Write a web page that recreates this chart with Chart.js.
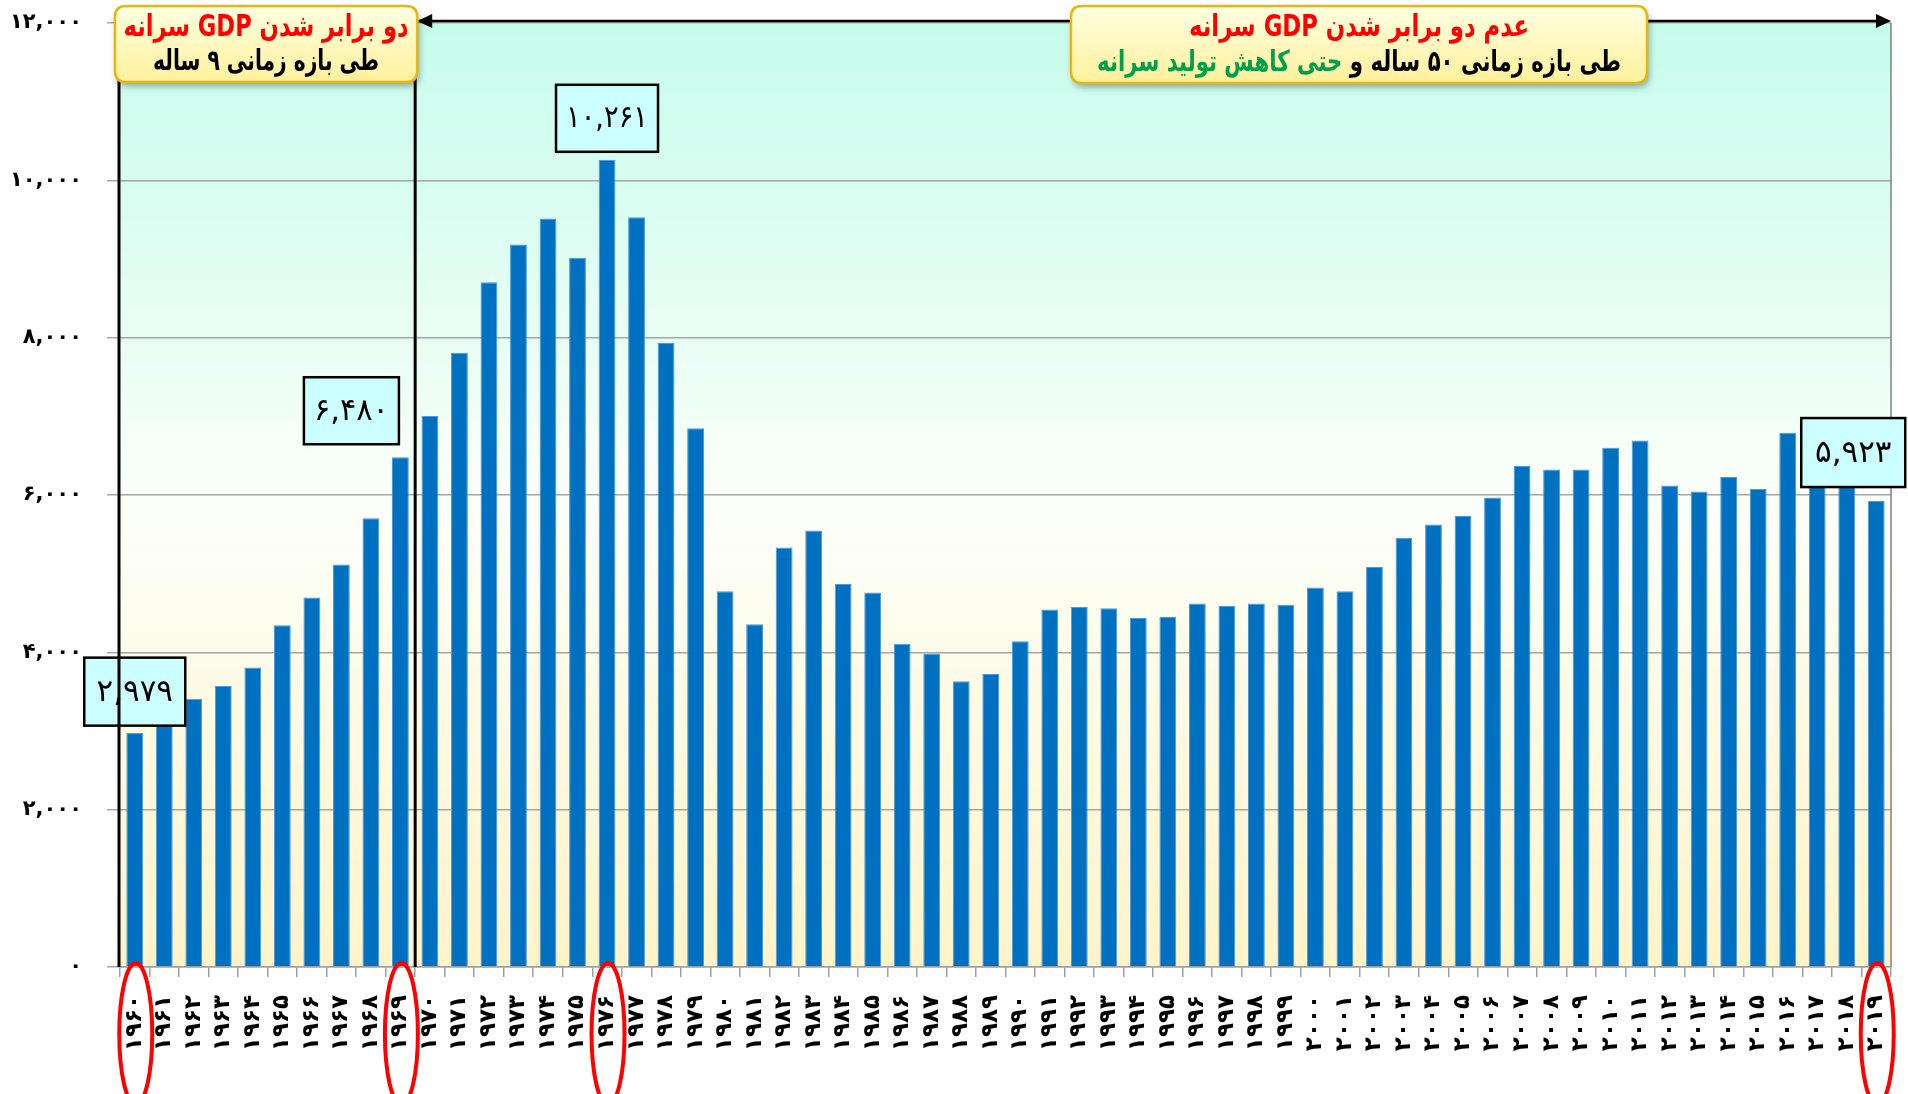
<!DOCTYPE html>
<html>
<head>
<meta charset="utf-8">
<script src="https://cdn.jsdelivr.net/npm/chart.js@4.4.1/dist/chart.umd.min.js"></script>
<style>
  html, body { margin: 0; padding: 0; background: #fff; }
  canvas { display: block; }
</style>
</head>
<body>
<canvas id="gdp" width="1908" height="1094"></canvas>
<script>
// years 1960..2019 in Persian digits
const years = [
  '۱۹۶۰','۱۹۶۱','۱۹۶۲','۱۹۶۳','۱۹۶۴','۱۹۶۵','۱۹۶۶','۱۹۶۷','۱۹۶۸','۱۹۶۹',
  '۱۹۷۰','۱۹۷۱','۱۹۷۲','۱۹۷۳','۱۹۷۴','۱۹۷۵','۱۹۷۶','۱۹۷۷','۱۹۷۸','۱۹۷۹',
  '۱۹۸۰','۱۹۸۱','۱۹۸۲','۱۹۸۳','۱۹۸۴','۱۹۸۵','۱۹۸۶','۱۹۸۷','۱۹۸۸','۱۹۸۹',
  '۱۹۹۰','۱۹۹۱','۱۹۹۲','۱۹۹۳','۱۹۹۴','۱۹۹۵','۱۹۹۶','۱۹۹۷','۱۹۹۸','۱۹۹۹',
  '۲۰۰۰','۲۰۰۱','۲۰۰۲','۲۰۰۳','۲۰۰۴','۲۰۰۵','۲۰۰۶','۲۰۰۷','۲۰۰۸','۲۰۰۹',
  '۲۰۱۰','۲۰۱۱','۲۰۱۲','۲۰۱۳','۲۰۱۴','۲۰۱۵','۲۰۱۶','۲۰۱۷','۲۰۱۸','۲۰۱۹'
];

// GDP per capita
const gdpPerCapita = [
  2979, 3150, 3411, 3573, 3806, 4344, 4698, 5116, 5704, 6480,
  7003, 7808, 8706, 9185, 9514, 9015, 10261, 9532, 7932, 6849,
  4775, 4357, 5333, 5549, 4868, 4760, 4110, 3986, 3631, 3724,
  4141, 4543, 4575, 4559, 4435, 4450, 4621, 4590, 4621, 4605,
  4823, 4775, 5086, 5456, 5626, 5734, 5967, 6370, 6323, 6323,
  6601, 6694, 6122, 6045, 6230, 6075, 6790, 6600, 6250, 5923
];

const yTickLabels = ['۰', '۲,۰۰۰', '۴,۰۰۰', '۶,۰۰۰', '۸,۰۰۰', '۱۰,۰۰۰', '۱۲,۰۰۰'];

// bars that get a value box and a red ring under their year
const markedIdx = [0, 9, 16, 59];

const leftTitle = 'دو برابر شدن GDP سرانه';
const leftSub = 'طی بازه زمانی ۹ ساله';
const rightTitle = 'عدم دو برابر شدن GDP سرانه';
const rightSubBlack = 'طی بازه زمانی ۵۰ ساله و ';
const rightSubGreen = 'حتی کاهش تولید سرانه';

const FA = '۰۱۲۳۴۵۶۷۸۹';
function toFa(n) {
  return n.toLocaleString('en-US').replace(/\d/g, d => FA[d]);
}

// ---- helpers ----
function roundRect(ctx, x, y, w, h, r) {
  ctx.beginPath();
  ctx.moveTo(x + r, y);
  ctx.lineTo(x + w - r, y);
  ctx.quadraticCurveTo(x + w, y, x + w, y + r);
  ctx.lineTo(x + w, y + h - r);
  ctx.quadraticCurveTo(x + w, y + h, x + w - r, y + h);
  ctx.lineTo(x + r, y + h);
  ctx.quadraticCurveTo(x, y + h, x, y + h - r);
  ctx.lineTo(x, y + r);
  ctx.quadraticCurveTo(x, y, x + r, y);
  ctx.closePath();
}

// right-to-left run of coloured pieces, squeezed to a target width
function richText(ctx, parts, cx, cy, font, target) {
  ctx.save();
  ctx.font = font;
  ctx.direction = 'rtl';
  ctx.textAlign = 'right';
  ctx.textBaseline = 'middle';
  const widths = parts.map(p => ctx.measureText(p.text).width);
  const total = widths.reduce((a, b) => a + b, 0);
  const k = Math.max(0.55, Math.min(1.15, target / total));
  ctx.translate(cx, cy);
  ctx.scale(k, 1);
  let x = total / 2;
  parts.forEach((p, i) => {
    ctx.fillStyle = p.color;
    ctx.fillText(p.text, x, 0);
    x -= widths[i];
  });
  ctx.restore();
}

function headerBox(ctx, x, y, w, h) {
  ctx.save();
  ctx.shadowColor = 'rgba(0,0,0,0.35)';
  ctx.shadowBlur = 7;
  ctx.shadowOffsetX = 2;
  ctx.shadowOffsetY = 4;
  const g = ctx.createLinearGradient(0, y, 0, y + h);
  g.addColorStop(0, '#FFFFE2');
  g.addColorStop(1, '#FFF19C');
  roundRect(ctx, x, y, w, h, 11);
  ctx.fillStyle = g;
  ctx.fill();
  ctx.shadowColor = 'transparent';
  ctx.lineWidth = 2.5;
  ctx.strokeStyle = '#E6B612';
  ctx.stroke();
  ctx.restore();
}

function arrowHead(ctx, x, y, dir) {
  ctx.beginPath();
  ctx.moveTo(x, y);
  ctx.lineTo(x - dir * 15, y - 7);
  ctx.lineTo(x - dir * 15, y + 7);
  ctx.closePath();
  ctx.fill();
}

// ---- plugins ----
const backdrop = {
  id: 'backdrop',
  beforeDraw(chart) {
    const { ctx, chartArea: a } = chart;
    const g = ctx.createLinearGradient(0, a.top, 0, a.bottom);
    g.addColorStop(0, '#C6FCEC');
    g.addColorStop(0.52, '#FCFFF9');
    g.addColorStop(1, '#FFF3C8');
    ctx.save();
    ctx.fillStyle = g;
    ctx.fillRect(a.left, a.top, a.right - a.left, a.bottom - a.top);
    ctx.restore();
  }
};

const notes = {
  id: 'notes',
  afterDraw(chart) {
    const { ctx, chartArea: a } = chart;
    const xs = chart.scales.x, ys = chart.scales.y;
    const split = (xs.getPixelForValue(9) + xs.getPixelForValue(10)) / 2;

    // right frame line
    ctx.save();
    ctx.strokeStyle = '#7F7F7F';
    ctx.lineWidth = 1.5;
    ctx.beginPath();
    ctx.moveTo(a.right, a.top);
    ctx.lineTo(a.right, a.bottom);
    ctx.stroke();
    ctx.restore();

    // value boxes: [dx from bar centre, gap above bar, w, h]
    const boxGeom = { 0: [0, 7, 101, 68], 9: [-49, 13, 95, 67], 16: [0, 8, 102, 67], 59: [-23, 14, 104, 69] };
    markedIdx.forEach(i => {
      const [dx, gap, w, h] = boxGeom[i];
      const cx = xs.getPixelForValue(i) + dx;
      const bottom = ys.getPixelForValue(gdpPerCapita[i]) - gap;
      ctx.save();
      ctx.fillStyle = '#CCFFFF';
      ctx.fillRect(cx - w / 2, bottom - h, w, h);
      ctx.lineWidth = 2.5;
      ctx.strokeStyle = '#000';
      ctx.strokeRect(cx - w / 2, bottom - h, w, h);
      ctx.fillStyle = '#000';
      ctx.font = '31px "DejaVu Sans"';
      ctx.textAlign = 'center';
      ctx.textBaseline = 'middle';
      ctx.fillText(toFa(gdpPerCapita[i]), cx, bottom - h / 2 + 1, w - 20);
      ctx.restore();
    });

    // period dividers + arrow
    ctx.save();
    ctx.strokeStyle = '#000';
    ctx.fillStyle = '#000';
    ctx.lineWidth = 3;
    [a.left - 1, split].forEach(x => {
      ctx.beginPath();
      ctx.moveTo(x, a.top - 2);
      ctx.lineTo(x, a.bottom);
      ctx.stroke();
    });
    ctx.lineWidth = 2.5;
    ctx.beginPath();
    ctx.moveTo(split + 4, a.top - 2);
    ctx.lineTo(a.right - 4, a.top - 2);
    ctx.stroke();
    arrowHead(ctx, split + 2, a.top - 2, -1);
    arrowHead(ctx, a.right, a.top - 2, 1);
    ctx.restore();

    // header boxes
    const lx = a.left - 5, lw = split + 2 - lx;
    headerBox(ctx, lx, 6, lw, 76);
    richText(ctx, [{ text: leftTitle, color: '#FF0000' }], lx + lw / 2, 28, 'bold 30px "DejaVu Sans"', 285);
    richText(ctx, [{ text: leftSub, color: '#000' }], lx + lw / 2, 62, 'bold 29px "DejaVu Sans"', 226);

    const rx = 1071, rw = 576;
    headerBox(ctx, rx, 6, rw, 77);
    richText(ctx, [{ text: rightTitle, color: '#FF0000' }], rx + rw / 2, 28, 'bold 30px "DejaVu Sans"', 340);
    richText(ctx, [{ text: rightSubBlack, color: '#000' }, { text: rightSubGreen, color: '#00A04A' }],
      rx + rw / 2, 63, 'bold 29px "DejaVu Sans"', 524);

    // red rings round the key years
    ctx.save();
    ctx.strokeStyle = '#FF0000';
    ctx.lineWidth = 4;
    markedIdx.forEach(i => {
      ctx.beginPath();
      ctx.ellipse(xs.getPixelForValue(i) + 1, 1034, 16.5, 71, 0, 0, Math.PI * 2);
      ctx.stroke();
    });
    ctx.restore();
  }
};

new Chart(document.getElementById('gdp'), {
  type: 'bar',
  data: {
    labels: years,
    datasets: [{
      data: gdpPerCapita,
      backgroundColor: '#0070C0',
      borderColor: '#4F97D8',
      borderWidth: 1,
      barPercentage: 0.57,
      categoryPercentage: 1
    }]
  },
  options: {
    responsive: false,
    animation: false,
    layout: { padding: { top: 23, right: 17, left: 0, bottom: 0 } },
    plugins: { legend: { display: false }, tooltip: { enabled: false } },
    scales: {
      x: {
        grid: { drawOnChartArea: false, color: '#A0A0A0', lineWidth: 1.5, tickLength: 10 },
        border: { color: '#A0A0A0', width: 1.5 },
        ticks: {
          autoSkip: false, minRotation: 90, maxRotation: 90, padding: 18,
          color: '#000', font: { family: 'DejaVu Sans', size: 23, weight: 'bold' }
        },
        afterFit(s) {
          s.height = 127;
          s.paddingLeft = 0;
          s.paddingRight = 0;
        }
      },
      y: {
        min: 0, max: 12000,
        grid: { color: '#A6A6A6', lineWidth: 1.5, tickLength: 13 },
        border: { display: false },
        ticks: {
          stepSize: 2000, padding: 25, color: '#000',
          font: { family: 'DejaVu Sans', size: 21, weight: 'bold' },
          callback: v => yTickLabels[v / 2000]
        },
        afterFit(s) {
          s.width = 120;
          s.paddingTop = 0;
          s.paddingBottom = 0;
        }
      }
    }
  },
  plugins: [backdrop, notes]
});
</script>
</body>
</html>
